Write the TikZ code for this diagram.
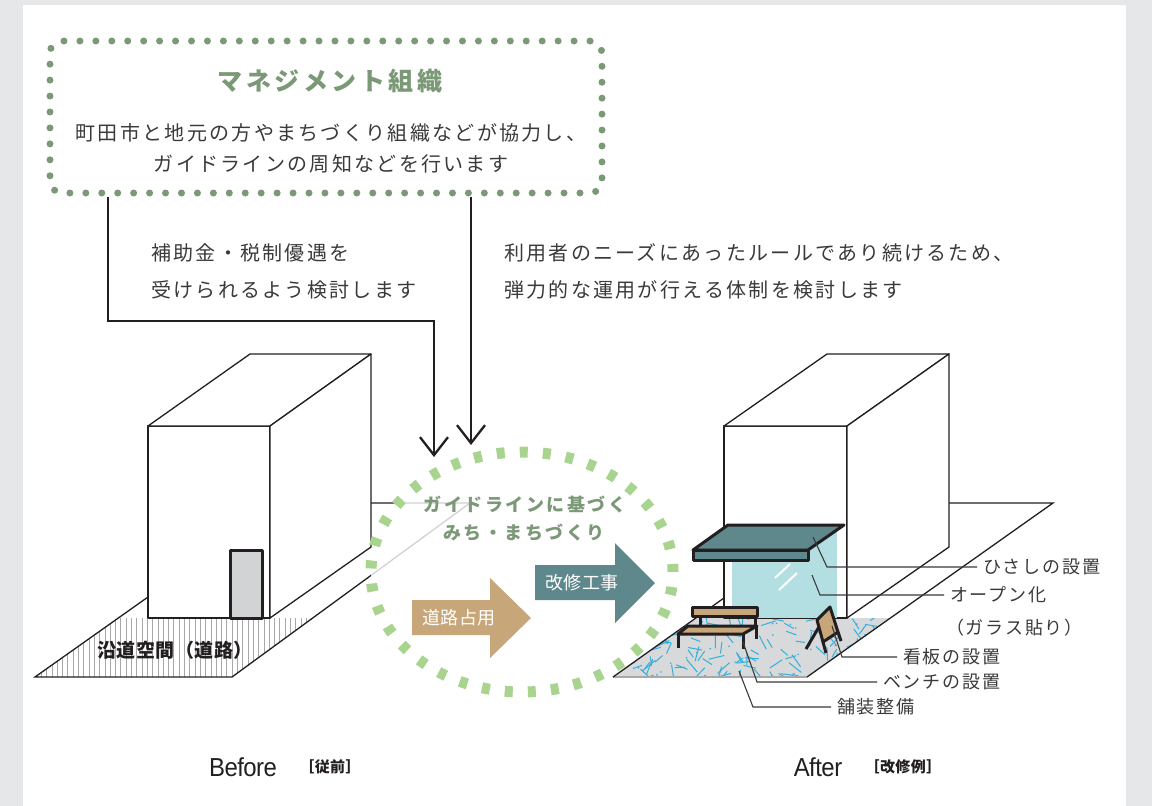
\documentclass[tikz,border=0pt]{standalone}
\usepackage{fontspec}
\setmainfont{Noto Sans CJK JP}
\newfontfamily\jptitle{Noto Sans CJK JP}[LetterSpace=14]
\newfontfamily\jpbody{Noto Sans CJK JP}[LetterSpace=11.5]
\newfontfamily\jpnote{Noto Sans CJK JP}[LetterSpace=10]
\newfontfamily\jpring{Noto Sans CJK JP}[LetterSpace=14]
\newfontfamily\jptight{Noto Sans CJK JP}[LetterSpace=3]
\newfontfamily\latinfont{Liberation Sans}[FakeStretch=0.92,LetterSpace=-2]
\usetikzlibrary{shapes.geometric,arrows.meta}

\definecolor{panelgray}{HTML}{E6E7E9}
\definecolor{sage}{HTML}{7B9877}
\definecolor{ringgreen}{HTML}{A9D490}
\definecolor{benchtan}{HTML}{C7A679}
\definecolor{awningteal}{HTML}{5F888D}
\definecolor{glassblue}{HTML}{B3DFE2}
\definecolor{pavegray}{HTML}{D8D9DB}
\definecolor{paveblue}{HTML}{35AFD9}
\definecolor{doorgray}{HTML}{D1D3D4}
\definecolor{ink}{HTML}{231F20}
\definecolor{txt}{HTML}{3A3A3A}
\definecolor{hatchgray}{HTML}{A8A8A8}

\begin{document}
\begin{tikzpicture}[x=1pt,y=-1pt,
  bld/.style={draw=ink,line width=1.3pt,fill=white,line join=round},
  edge/.style={draw=ink,line width=1.3pt},
  heavy/.style={draw=ink,line width=3pt,line join=round},
  conn/.style={draw=ink,line width=2.3pt,-{Straight Barb[length=18pt,width=28pt]}},
  leader/.style={draw=txt,line width=1.1pt,shorten >=6pt},
  mgmtbox/.style={draw=sage,line width=7pt,line cap=round,dash pattern=on 0pt off 15.94pt,
    rounded corners=12pt,minimum width=552pt,minimum height=152pt,inner sep=0pt},
  titletext/.style={inner sep=0pt,text=sage,font=\jptitle\bfseries\fontsize{25}{30}\selectfont},
  body/.style={inner sep=0pt,text=txt,font=\jpbody\fontsize{20}{24}\selectfont},
  note/.style={inner sep=0pt,anchor=west,text=txt,font=\jpnote\fontsize{18}{22}\selectfont},
  ringtext/.style={inner sep=0pt,text=sage,font=\jpring\bfseries\fontsize{18}{22}\selectfont},
  arrowtext/.style={inner sep=0pt,text=white,font=\jptight\fontsize{18}{22}\selectfont},
  groundtext/.style={inner sep=0pt,text=ink,font=\jptight\bfseries\fontsize{19}{23}\selectfont},
  caption/.style={inner sep=0pt,text=ink,font=\latinfont\fontsize{26}{30}\selectfont},
  subcaption/.style={inner sep=0pt,text=ink,font=\jptight\bfseries\fontsize{15}{18}\selectfont},
]
\useasboundingbox (0,0) rectangle (1152,806);
\fill[panelgray] (0,0) rectangle (1152,806);
\fill[white] (23,5) rectangle (1126,806);

% ---------- Before: roadside space with hatching ----------
\begin{scope}
  \clip (35,677) -- (232,677) -- (314,618) -- (118,618) -- cycle;
  \foreach \hx in {36,41.3,...,320}
    \draw[hatchgray,line width=0.8pt] (\hx,610) -- (\hx,680);
\end{scope}
\draw[edge] (148,597) -- (35,677) -- (232,677) -- (470,503) -- (371,503);

% building
\draw[bld] (148,426) rectangle (270,618);
\draw[bld] (148,426) -- (250,354) -- (371,354) -- (270,426) -- cycle;
\draw[bld] (270,426) -- (371,354) -- (371,547) -- (270,618) -- cycle;
\draw[heavy,fill=doorgray] (230,550) rectangle (262,618);

\node[groundtext] (roadside) at (175,650) {沿道空間（道路）};

% ---------- After: paving, awning, glazing, bench, sign ----------
\begin{scope}
  \clip (613,677) -- (807,677) -- (890,618) -- (696,618) -- cycle;
  \fill[pavegray] (600,610) rectangle (900,680);
  \pgfmathsetseed{4242}
  \foreach \k in {1,...,160}{
    \pgfmathsetmacro\px{600+300*rnd}
    \pgfmathsetmacro\py{612+68*rnd}
    \pgfmathsetmacro\pa{180*rnd}
    \pgfmathsetmacro\pl{9+8*rnd}
    \draw[paveblue,line width=1pt] (\px,\py) -- ++(\pa:\pl);
  }
  \foreach \k in {1,...,45}{
    \pgfmathsetmacro\px{600+300*rnd}
    \pgfmathsetmacro\py{612+68*rnd}
    \fill[paveblue] (\px,\py) circle (0.9pt);
  }
\end{scope}
\draw[draw=hatchgray,line width=1.3pt] (613,677) -- (807,677);
\draw[edge] (724,598) -- (613,677);
\draw[edge] (807,677) -- (1053,503) -- (949,503);

% building
\draw[bld] (724,426) rectangle (847,618);
\draw[bld] (724,426) -- (827,354) -- (949,354) -- (847,426) -- cycle;
\draw[bld] (847,426) -- (949,354) -- (949,547) -- (847,618) -- cycle;

% glazing
\fill[glassblue] (732,525) rectangle (837,618);
\draw[white,line width=2pt] (775,578) -- (790,564);
\draw[white,line width=2pt] (779,590) -- (797,573);

% awning
\draw[heavy,fill=awningteal] (728,525) -- (844,525) -- (808,550) -- (693,550) -- cycle;
\draw[heavy,fill=awningteal] (693,550) rectangle (808,560);

% bench
\draw[heavy] (700,616) -- (700,627);
\draw[heavy] (755,616) -- (755,627);
\draw[heavy,fill=benchtan] (692,607) rectangle (757,616);
\draw[heavy] (756,627) -- (756,639);
\draw[heavy] (678,634) -- (678,648);
\draw[heavy] (743,634) -- (743,649);
\draw[heavy,fill=benchtan] (688,626) -- (757,626) -- (743,634) -- (678,634) -- cycle;

% A-frame sign
\draw[heavy] (830,608) -- (806,649);
\draw[heavy,fill=benchtan] (817,620) -- (830,607) -- (838,632) -- (823,642) -- cycle;
\draw[heavy] (823,642) -- (826,653);
\draw[heavy] (838,632) -- (841,641);

% ---------- guideline ring and process arrows ----------
\node[ellipse,draw=ringgreen,line width=11pt,dash pattern=on 8pt off 15.09pt,
      fill=white,fill opacity=0.8,minimum width=302pt,minimum height=240pt,inner sep=0pt]
      (guide) at (522,572) {};
\node[ringtext] (guideA) at (525,505) {ガイドラインに基づく};
\node[ringtext] (guideB) at (524,533) {みち・まちづくり};

\fill[benchtan] (412,600) -- (490,600) -- (490,578) -- (531,618) -- (490,658)
  -- (490,635) -- (412,635) -- cycle;
\node[arrowtext] (occupy) at (459,618) {道路占用};
\fill[awningteal] (535,565) -- (615,565) -- (615,543) -- (655,583) -- (615,623)
  -- (615,600) -- (535,600) -- cycle;
\node[arrowtext] (renovate) at (582,583) {改修工事};

% ---------- management organisation ----------
\node[mgmtbox] (mgmt) at (326,117) {};
\node[titletext] (mgmtTitle) at (330,81) {マネジメント組織};
\node[body] (mgmtA) at (331,133) {町田市と地元の方やまちづくり組織などが協力し、};
\node[body] (mgmtB) at (331,164) {ガイドラインの周知などを行います};

\coordinate (cornerL) at (108,321);
\coordinate (cornerR) at (434,321);
\coordinate (tipL) at (434,457);
\coordinate (tipR) at (471,445);
\draw[conn] (mgmt.south -| cornerL) -- (cornerL) -- (cornerR) -- (tipL);
\draw[conn] (mgmt.south -| tipR) -- (tipR);

\node[body,anchor=west] (subsidyA) at (151,253) {補助金・税制優遇を};
\node[body,anchor=west] (subsidyB) at (151,290) {受けられるよう検討します};
\node[body,anchor=west] (ruleA) at (504,253) {利用者のニーズにあったルールであり続けるため、};
\node[body,anchor=west] (ruleB) at (504,290) {弾力的な運用が行える体制を検討します};

% ---------- callouts ----------
\node[note] (eaveLabel) at (983,567) {ひさしの設置};
\node[note] (openLabel) at (950,595) {オープン化};
\node[note] (glassLabel) at (946,628) {（ガラス貼り）};
\node[note] (signLabel) at (903,657) {看板の設置};
\node[note] (benchLabel) at (883,682) {ベンチの設置};
\node[note] (paveLabel) at (837,707) {舗装整備};

\coordinate (eaveFrom) at (813,537);  \coordinate (eaveBend) at (827,567);
\coordinate (openFrom) at (812,575);  \coordinate (openBend) at (820,595);
\coordinate (signFrom) at (832,626);  \coordinate (signBend) at (842,657);
\coordinate (benchFrom) at (743,642); \coordinate (benchBend) at (757,682);
\coordinate (paveFrom) at (739,671);  \coordinate (paveBend) at (753,707);
\draw[leader] (eaveFrom) -- (eaveBend) -- (eaveBend -| eaveLabel.west);
\draw[leader] (openFrom) -- (openBend) -- (openBend -| openLabel.west);
\draw[leader] (signFrom) -- (signBend) -- (signBend -| signLabel.west);
\draw[leader] (benchFrom) -- (benchBend) -- (benchBend -| benchLabel.west);
\draw[leader] (paveFrom) -- (paveBend) -- (paveBend -| paveLabel.west);

% ---------- captions ----------
\node[caption] (before) at (243,767) {Before};
\node[subcaption] (beforeSub) at (330,767) {［従前］};
\node[caption] (after) at (818,767) {After};
\node[subcaption] (afterSub) at (903,767) {［改修例］};
\end{tikzpicture}
\end{document}
